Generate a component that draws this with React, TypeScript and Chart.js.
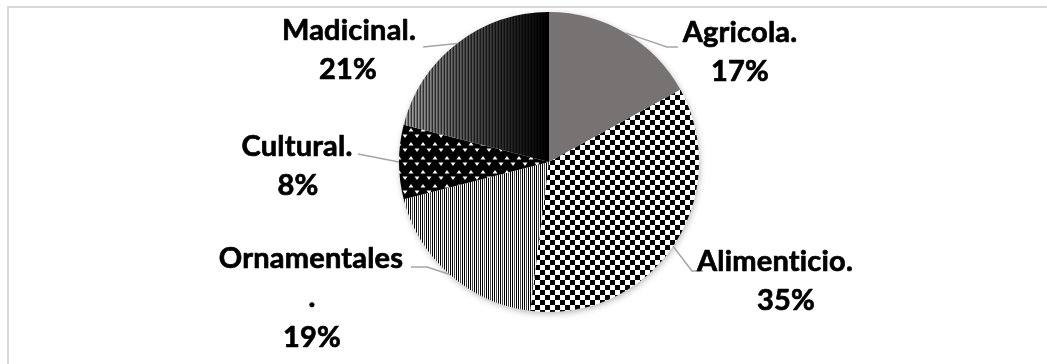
import { useEffect, useRef } from 'react';
import { Chart, registerables } from 'chart.js';

Chart.register(...registerables);

// Uses of the plants, share of mentions (%)
const categories = ['Agricola.', 'Alimenticio.', 'Ornamentales.', 'Cultural.', 'Madicinal.'];
const shares = [17, 35, 19, 8, 21];

// Where each category name wraps (null = single line)
const nameBreaks: (number | null)[] = [null, null, 12, null, null];

// Label layout relative to the pie centre: leader-line points and one anchor per text line
const labelLayout = [
  { leader: [[118, -115], [129, -115]], lines: [[191, -120], [191, -81]] },
  { leader: [[143, 109], [154, 109]], lines: [[226, 109], [237, 148]] },
  { leader: [[-122, 105], [-138, 105]], lines: [[-238, 106], [-237, 145], [-237, 185]] },
  { leader: [[-191, -8]], lines: [[-252, -6], [-251, 33]] },
  { leader: [[-126, -115]], lines: [[-200, -122], [-201, -83]] },
];

const W = 1047;
const H = 364;

function makeTile(w: number, h: number, draw: (g: CanvasRenderingContext2D) => void) {
  const c = document.createElement('canvas');
  c.width = w;
  c.height = h;
  const g = c.getContext('2d')!;
  draw(g);
  return c;
}

function checkerTile() {
  return makeTile(10, 10, (g) => {
    g.fillStyle = '#ffffff';
    g.fillRect(0, 0, 10, 10);
    g.fillStyle = '#000000';
    g.fillRect(0, 0, 5, 5);
    g.fillRect(5, 5, 5, 5);
  });
}

function stripeTile() {
  const cols = ['#000000', '#ffffff', '#000000', '#ffffff', '#444444', '#ffffff'];
  return makeTile(cols.length, 1, (g) => {
    cols.forEach((c, i) => {
      g.fillStyle = c;
      g.fillRect(i, 0, 1, 1);
    });
  });
}

function triangleTile() {
  return makeTile(12, 14, (g) => {
    g.fillStyle = '#000000';
    g.fillRect(0, 0, 12, 14);
    g.fillStyle = '#ffffff';
    g.beginPath();
    g.moveTo(0.5, 5.5);
    g.lineTo(3, 2);
    g.lineTo(5.5, 5.5);
    g.closePath();
    g.fill();
    g.beginPath();
    g.moveTo(6.5, 8.5);
    g.lineTo(11.5, 8.5);
    g.lineTo(9, 12);
    g.closePath();
    g.fill();
  });
}

// Vertical stripes that darken from the left rim of the pie towards its centre line
function shadedStripes(chart: Chart) {
  const area = chart.chartArea;
  const c = document.createElement('canvas');
  c.width = chart.width;
  c.height = chart.height;
  const g = c.getContext('2d')!;
  const cx = (area.left + area.right) / 2;
  const r = Math.min(area.right - area.left, area.bottom - area.top) / 2;
  g.fillStyle = '#000';
  g.fillRect(0, 0, c.width, c.height);
  for (let x = Math.floor(cx - r) - 1; x <= Math.ceil(cx) + 1; x++) {
    const t = Math.min(1, Math.max(0, (x - (cx - r)) / r));
    const base = 170 * Math.pow(1 - t, 1.1);
    const k = x % 3 === 0 ? 0.35 : x % 3 === 1 ? 1 : 0.75;
    const v = Math.round(base * k);
    g.fillStyle = `rgb(${v},${v},${v})`;
    g.fillRect(x, 0, 1, c.height);
  }
  return chart.ctx.createPattern(c, 'no-repeat');
}

const pieShadow = {
  id: 'pieShadow',
  beforeDatasetsDraw(chart: Chart) {
    const arc: any = chart.getDatasetMeta(0).data[0];
    if (!arc) return;
    const ctx = chart.ctx;
    ctx.save();
    ctx.shadowColor = 'rgba(0,0,0,0.35)';
    ctx.shadowBlur = 7;
    ctx.shadowOffsetX = 1;
    ctx.shadowOffsetY = 2;
    ctx.fillStyle = '#ffffff';
    ctx.beginPath();
    ctx.arc(arc.x, arc.y, arc.outerRadius - 1, 0, Math.PI * 2);
    ctx.fill();
    ctx.restore();
  },
};

const pieLabels = {
  id: 'pieLabels',
  afterDatasetsDraw(chart: Chart) {
    const meta = chart.getDatasetMeta(0);
    const data = chart.data.datasets[0].data as number[];
    const total = data.reduce((a, b) => a + b, 0);
    const names = chart.data.labels as string[];
    const ctx: any = chart.ctx;
    ctx.save();
    meta.data.forEach((el: any, i: number) => {
      const layout = labelLayout[i];
      const cx = el.x;
      const cy = el.y;
      const mid = (el.startAngle + el.endAngle) / 2;
      const sx = cx + Math.cos(mid) * el.outerRadius;
      const sy = cy + Math.sin(mid) * el.outerRadius;

      ctx.strokeStyle = '#a6a6a6';
      ctx.lineWidth = 1.5;
      ctx.beginPath();
      ctx.moveTo(sx, sy);
      layout.leader.forEach(([dx, dy]) => ctx.lineTo(cx + dx, cy + dy));
      ctx.stroke();

      const name = names[i];
      const br = nameBreaks[i];
      const texts = br == null ? [name] : [name.slice(0, br), name.slice(br)];
      texts.push(`${Math.round((data[i] / total) * 100)}%`);

      ctx.fillStyle = '#000000';
      ctx.strokeStyle = '#000000';
      ctx.lineWidth = 0.7;
      ctx.lineJoin = 'round';
      ctx.font = 'bold 29px Lato';
      ctx.textRendering = 'optimizeSpeed';
      ctx.letterSpacing = '0.2px';
      ctx.textAlign = 'center';
      ctx.textBaseline = 'alphabetic';
      texts.forEach((t, j) => {
        const [dx, dy] = layout.lines[j];
        ctx.fillText(t, cx + dx, cy + dy);
        ctx.strokeText(t, cx + dx, cy + dy);
      });
    });
    ctx.restore();
  },
};

export default function App() {
  const canvasRef = useRef<HTMLCanvasElement | null>(null);

  useEffect(() => {
    const canvas = canvasRef.current;
    if (!canvas) return;
    const g = canvas.getContext('2d')!;
    const checker = g.createPattern(checkerTile(), 'repeat');
    const stripes = g.createPattern(stripeTile(), 'repeat');
    const triangles = g.createPattern(triangleTile(), 'repeat');

    const chart = new Chart(canvas, {
      type: 'pie',
      data: {
        labels: categories,
        datasets: [
          {
            data: shares,
            borderWidth: 0,
            backgroundColor: (c: any) => {
              switch (c.dataIndex) {
                case 0:
                  return '#777373';
                case 1:
                  return checker;
                case 2:
                  return stripes;
                case 3:
                  return triangles;
                default:
                  return c.chart.chartArea ? shadedStripes(c.chart) : '#333333';
              }
            },
          },
        ],
      },
      options: {
        responsive: false,
        maintainAspectRatio: false,
        animation: false,
        layout: { padding: { left: 399, right: 348, top: 12, bottom: 52 } },
        plugins: {
          legend: { display: false },
          tooltip: { enabled: false },
        },
      },
      plugins: [pieShadow, pieLabels],
    });
    return () => chart.destroy();
  }, []);

  return (
    <div
      style={{
        position: 'fixed',
        left: 0,
        top: 0,
        width: W,
        height: H,
        overflow: 'hidden',
        background: '#ffffff',
      }}
    >
      <div
        style={{
          position: 'absolute',
          left: 7,
          top: 6,
          width: W + 20,
          height: H + 20,
          borderTop: '2px solid #d9d9d9',
          borderLeft: '2px solid #d9d9d9',
        }}
      />
      <canvas
        ref={canvasRef}
        width={W}
        height={H}
        style={{ position: 'absolute', left: 0, top: 0, display: 'block' }}
      />
    </div>
  );
}
